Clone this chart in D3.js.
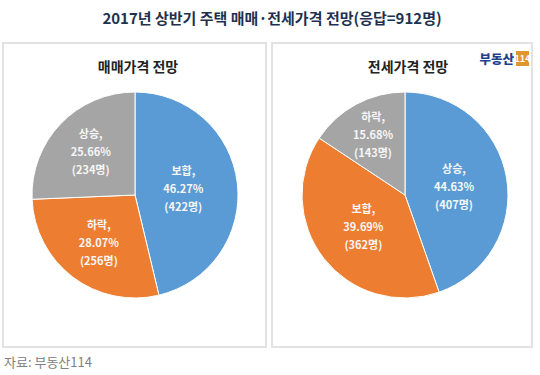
<!DOCTYPE html>
<html>
<head>
<meta charset="utf-8">
<script src="https://cdn.jsdelivr.net/npm/d3@7"></script>
<style>
	html, body { margin: 0; padding: 0; background: #fff; }
	#chart { display: block; width: 540px; height: 375px; }
	text { font-family: "Noto Sans CJK KR", "Noto Sans", sans-serif; }
</style>
</head>
<body>
<svg id="chart" width="540" height="375"></svg>
<script>
// survey answers (percent, number of people)
var saleCategories = ['보합', '하락', '상승'];
var salePercents = [46.27, 28.07, 25.66];
var saleCounts = [422, 256, 234];

var jeonseCategories = ['상승', '보합', '하락'];
var jeonsePercents = [44.63, 39.69, 15.68];
var jeonseCounts = [407, 362, 143];

var sliceColors = ['#5b9bd5', '#ed7d31', '#a5a5a5'];

var chartTitle = '2017년 상반기 주택 매매·전세가격 전망(응답=912명)';
var panelTitles = ['매매가격 전망', '전세가격 전망'];
var sourceText = '자료: 부동산114';

window.app = window.app || {};

window.app.pieCharts = (function() {

	'use strict';

	var svg = d3.select('#chart'),
		radius = 103;

	/**
	* draw the panel frames and the texts around the pies
	* @returns {undefined}
	*/
	var drawFrame = function() {
		svg.append('text')
			.attr('x', 272)
			.attr('y', 24)
			.attr('text-anchor', 'middle')
			.attr('font-size', 15)
			.attr('font-weight', 'bold')
			.attr('fill', '#1e3250')
			.text(chartTitle);

		svg.selectAll('rect.panel')
			.data([[3, 263], [272, 260]])
			.enter()
			.append('rect')
			.attr('class', 'panel')
			.attr('x', function(d) { return d[0]; })
			.attr('y', 43)
			.attr('width', function(d) { return d[1]; })
			.attr('height', 304)
			.attr('fill', '#fff')
			.attr('stroke', '#e2e2e2')
			.attr('stroke-width', 2);

		svg.append('text')
			.attr('x', 4)
			.attr('y', 367)
			.attr('font-size', 13)
			.attr('fill', '#808080')
			.text(sourceText);

		// logo in the right panel
		svg.append('text')
			.attr('x', 514)
			.attr('y', 64)
			.attr('text-anchor', 'end')
			.attr('font-size', 12.5)
			.attr('font-weight', 900)
			.attr('fill', '#1f3f8f')
			.text('부동산');
		svg.append('rect')
			.attr('x', 516)
			.attr('y', 51)
			.attr('width', 13)
			.attr('height', 15)
			.attr('fill', '#e0962c');
		svg.append('text')
			.attr('x', 522.5)
			.attr('y', 62)
			.attr('text-anchor', 'middle')
			.attr('font-size', 9)
			.attr('font-weight', 'bold')
			.attr('fill', '#fff')
			.text('114');
	};


	/**
	* draw one pie with labels
	* @param {number} cx center x
	* @param {number} cy center y
	* @param {string} title panel title
	* @param {array} categories slice names
	* @param {array} percents slice percentages
	* @param {array} counts slice people counts
	* @returns {undefined}
	*/
	var drawPie = function(cx, cy, title, categories, percents, counts) {
		var data = categories.map(function(c, i) {
			return {name: c, pct: percents[i], count: counts[i], color: sliceColors[i]};
		});

		var pie = d3.pie()
			.sort(null)
			.value(function(d) { return d.pct; });

		var arc = d3.arc()
			.innerRadius(0)
			.outerRadius(radius);

		svg.append('text')
			.attr('x', cx + 3)
			.attr('y', 72)
			.attr('text-anchor', 'middle')
			.attr('font-size', 14)
			.attr('font-weight', 'bold')
			.attr('fill', '#222')
			.text(title);

		var g = svg.append('g')
			.attr('transform', 'translate(' + cx + ',' + cy + ')');

		var arcs = pie(data);

		g.selectAll('path')
			.data(arcs)
			.enter()
			.append('path')
			.attr('d', arc)
			.attr('fill', function(d) { return d.data.color; })
			.attr('stroke', '#fff')
			.attr('stroke-width', 1);

		// bigger slices get their label nearer to the center
		var labels = g.selectAll('text.lbl')
			.data(arcs)
			.enter()
			.append('text')
			.attr('class', 'lbl')
			.attr('text-anchor', 'middle')
			.attr('font-size', 11)
			.attr('font-weight', 'bold')
			.attr('fill', '#f6f6f6')
			.attr('transform', function(d) {
				var r = radius * (0.75 - 0.006 * d.data.pct);
				var c = d3.arc().innerRadius(r).outerRadius(r).centroid(d);
				return 'translate(' + c[0] + ',' + c[1] + ')';
			});

		labels.append('tspan')
			.attr('x', 0)
			.attr('y', -14)
			.text(function(d) { return d.data.name + ','; });
		labels.append('tspan')
			.attr('x', 0)
			.attr('y', 4)
			.text(function(d) { return d.data.pct.toFixed(2) + '%'; });
		labels.append('tspan')
			.attr('x', 0)
			.attr('y', 22)
			.text(function(d) { return '(' + d.data.count + '명)'; });
	};


	/**
	* initialize the charts
	* @returns {undefined}
	*/
	var init = function() {
		drawFrame();
		drawPie(135, 195, panelTitles[0], saleCategories, salePercents, saleCounts);
		drawPie(405, 195, panelTitles[1], jeonseCategories, jeonsePercents, jeonseCounts);
	};

	return {
		init
	};

})();

window.app.pieCharts.init();
</script>
</body>
</html>
